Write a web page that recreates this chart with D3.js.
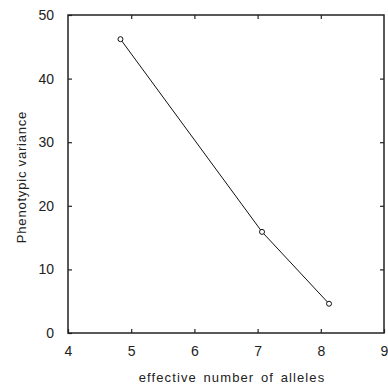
<!DOCTYPE html>
<html>
<head>
<meta charset="utf-8">
<script src="https://cdn.jsdelivr.net/npm/d3@7"></script>
<style>
  body { margin: 0; background: #fff; }
  text { font-family: "Liberation Sans", Arial, sans-serif; fill: #222; }
</style>
</head>
<body>
<div id="chartDiv"></div>
<script>
// data
const alleles = [4.83, 7.07, 8.13];
const variance = [46.2, 15.9, 4.6];
const xTicks = [4, 5, 6, 7, 8, 9];
const yTicks = [0, 10, 20, 30, 40, 50];

const margin = { top: 15, right: 4, bottom: 56, left: 68 },
    width = 388 - margin.left - margin.right,
    height = 389 - margin.top - margin.bottom;

const svg = d3.select("#chartDiv")
    .append("svg")
    .attr("width", 388)
    .attr("height", 389)
    .append("g")
    .attr("transform", "translate(" + margin.left + "," + margin.top + ")");

const x = d3.scaleLinear().domain([4, 9]).range([0, width]);
const y = d3.scaleLinear().domain([0, 50]).range([height, 0]);

// axes with inward ticks
const styleAxis = (g) => {
    g.select(".domain").remove();
    g.selectAll(".tick line").attr("stroke", "#222").attr("stroke-width", 1.2);
    g.selectAll(".tick text").style("font-size", "14px").attr("fill", "#222");
};

svg.append("g")
    .attr("transform", "translate(0," + height + ")")
    .call(d3.axisBottom(x).tickValues(xTicks).tickFormat(d3.format("d")).tickSizeInner(-4).tickPadding(10))
    .call(styleAxis)
    .selectAll(".tick text").attr("dy", "0.9em");

svg.append("g")
    .call(d3.axisLeft(y).tickValues(yTicks).tickFormat(d3.format("d")).tickSizeInner(-4).tickPadding(14))
    .call(styleAxis);

svg.append("g")
    .call(d3.axisTop(x).tickValues(xTicks.slice(1, -1)).tickSizeInner(-4).tickFormat(""))
    .call(styleAxis);

svg.append("g")
    .attr("transform", "translate(" + width + ",0)")
    .call(d3.axisRight(y).tickValues(yTicks.slice(1, -1)).tickSizeInner(-4).tickFormat(""))
    .call(styleAxis);

// frame
svg.append("rect")
    .attr("x", 0).attr("y", 0)
    .attr("width", width).attr("height", height)
    .attr("fill", "none")
    .attr("stroke", "#222")
    .attr("stroke-width", 1.5);

// line + points
const pts = alleles.map((a, i) => [a, variance[i]]);
svg.append("path")
    .datum(pts)
    .attr("fill", "none")
    .attr("stroke", "#111")
    .attr("stroke-width", 1)
    .attr("d", d3.line().x(d => x(d[0])).y(d => y(d[1])));

svg.selectAll("circle")
    .data(pts)
    .enter()
    .append("circle")
    .attr("cx", d => x(d[0]))
    .attr("cy", d => y(d[1]))
    .attr("r", 2.5)
    .attr("fill", "#fff")
    .attr("stroke", "#111")
    .attr("stroke-width", 1);

// axis labels
svg.append("text")
    .attr("x", 232 - margin.left)
    .attr("y", height + 49)
    .attr("text-anchor", "middle")
    .style("font-size", "13px")
    .style("letter-spacing", "1.1px")
    .style("word-spacing", "2px")
    .text("effective number of alleles");

svg.append("text")
    .attr("transform", "translate(" + (-42) + "," + (177 - margin.top) + ") rotate(-90)")
    .attr("text-anchor", "middle")
    .style("font-size", "13px")
    .style("letter-spacing", "0.8px")
    .text("Phenotypic variance");
</script>
</body>
</html>
